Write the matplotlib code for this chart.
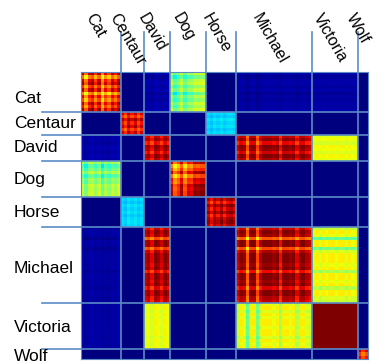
import matplotlib.pyplot as plt
import numpy as np

plt.rcParams['font.family'] = ['Liberation Sans', 'DejaVu Sans']

names = ["Cat", "Centaur", "David", "Dog", "Horse", "Michael", "Victoria", "Wolf"]

# how far each item sits from its class prototype (0 = typical item)
cat = [0.05, 0.4, 0.1, 0.0, 0.25, 0.05, 0.45, 0.15, 0.3, 0.05, 0.2, 0.0]
centaur = [0.1, 0.3, 0.0, 0.2, 0.05, 0.3, 0.1]
david = [0.15, 0.05, 0.25, 0.0, 0.05, 0.2, 0.0, 0.1]
dog = [0.1, 0.45, 0.3, 0.05, 0.4, 0.15, 0.2, 0.0, 0.05, 0.0, 0.0]
horse = [0.05, 0.25, 0.0, 0.15, 0.0, 0.2, 0.05, 0.0, 0.1]
michael = [0.15, 0.0, 0.05, 0.45, 0.0, 0.0, 0.4, 0.1, 0.0, 0.0, 0.0, 0.05,
           0.0, 0.25, 0.0, 0.0, 0.05, 0.0, 0.2, 0.0, 0.0, 0.1, 0.15]
victoria = [0.05, 0.0, 0.1, 0.0, 0.05, 0.0, 0.0, 0.05, 0.0, 0.0, 0.1, 0.0, 0.05, 0.0]
wolf = [0.0, 0.3, 0.1]
items = [cat, centaur, david, dog, horse, michael, victoria, wolf]

# similarity level between two classes
block_level = [
    [1.00, 0.00, 0.05, 0.62, 0.00, 0.04, 0.04, 0.00],
    [0.00, 1.00, 0.00, 0.00, 0.36, 0.00, 0.00, 0.00],
    [0.05, 0.00, 1.00, 0.00, 0.00, 1.00, 0.65, 0.00],
    [0.62, 0.00, 0.00, 1.00, 0.00, 0.00, 0.00, 0.00],
    [0.00, 0.36, 0.00, 0.00, 1.00, 0.00, 0.00, 0.00],
    [0.04, 0.00, 1.00, 0.00, 0.00, 1.00, 0.66, 0.00],
    [0.04, 0.00, 0.65, 0.00, 0.00, 0.66, 1.00, 0.00],
    [0.00, 0.00, 0.00, 0.00, 0.00, 0.00, 0.00, 0.95],
]
# how much atypical items lower that level
block_spread = [
    [0.45, 0.00, 0.05, 0.30, 0.00, 0.04, 0.04, 0.00],
    [0.00, 0.35, 0.00, 0.00, 0.10, 0.00, 0.00, 0.00],
    [0.05, 0.00, 0.35, 0.00, 0.00, 0.35, 0.15, 0.00],
    [0.30, 0.00, 0.00, 0.40, 0.00, 0.00, 0.00, 0.00],
    [0.00, 0.10, 0.00, 0.00, 0.35, 0.00, 0.00, 0.00],
    [0.04, 0.00, 0.35, 0.00, 0.00, 0.40, 0.40, 0.00],
    [0.04, 0.00, 0.15, 0.00, 0.00, 0.40, 0.00, 0.00],
    [0.00, 0.00, 0.00, 0.00, 0.00, 0.00, 0.00, 0.30],
]

sizes = [len(p) for p in items]
edges = np.concatenate([[0], np.cumsum(sizes)])
n = edges[-1]

sim = np.zeros((n, n))
for a in range(len(names)):
    pa = np.array(items[a])
    for b in range(len(names)):
        pb = np.array(items[b])
        blk = block_level[a][b] - block_spread[a][b] * (pa[:, None] + pb[None, :])
        sim[edges[a]:edges[a + 1], edges[b]:edges[b + 1]] = blk
sim = np.clip(sim, 0, 1)

W, H = 381, 364
fig = plt.figure(figsize=(W / 100, H / 100), dpi=100)
ax = fig.add_axes([81 / W, 5 / H, 287 / W, 287 / H])
ax.imshow(sim, cmap='jet', vmin=0, vmax=1, interpolation='nearest',
          aspect='auto', extent=(0, n, n, 0))
ax.set_xlim(0, n)
ax.set_ylim(n, 0)
ax.set_xticks([])
ax.set_yticks([])

line_col = '#5B8BC5'
for s in ax.spines.values():
    s.set_color(line_col)
    s.set_linewidth(0.8)

u = n / 287.0  # data units per pixel
for e in edges[1:-1]:
    ax.plot([e, e], [n, -40 * u], color=line_col, lw=1.2, clip_on=False)
    ax.plot([-39 * u, n], [e, e], color=line_col, lw=1.2, clip_on=False)

# row labels sit a little below some block centres
row_nudge = [7, 0, 0, 0, 0, 4, 1, 2]
centers = (edges[:-1] + edges[1:]) / 2
for name, c, dy in zip(names, centers, row_nudge):
    ax.text(-67 * u, c + dy * u, name, ha='left', va='center', fontsize=12.5,
            clip_on=False)
    ax.text(c - 5 * u, -61 * u, name, ha='center', va='top', rotation=-60,
            fontsize=11.5, clip_on=False)

fig.savefig('out.png', dpi=100)
